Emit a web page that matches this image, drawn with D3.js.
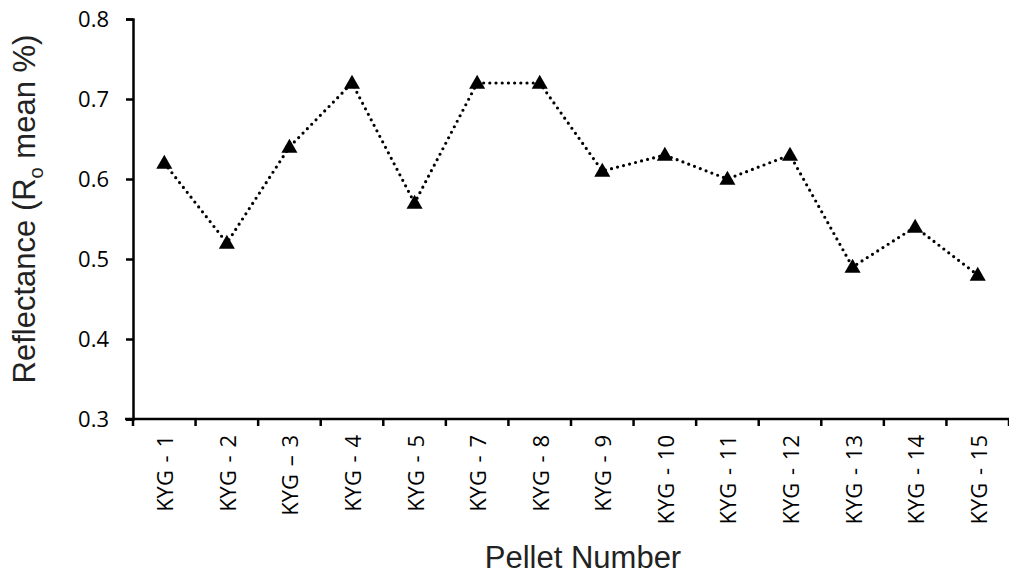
<!DOCTYPE html>
<html>
<head>
<meta charset="utf-8">
<script src="https://cdn.jsdelivr.net/npm/d3@7"></script>
<style>
  body { margin: 0; background: #fff; }
  svg { display: block; }
</style>
</head>
<body>
<script>
const pellets = ["KYG - 1", "KYG - 2", "KYG \u2013 3", "KYG - 4", "KYG - 5", "KYG - 7", "KYG - 8",
  "KYG - 9", "KYG - 10", "KYG - 11", "KYG - 12", "KYG - 13", "KYG - 14", "KYG - 15"];
const reflectance = [0.62, 0.52, 0.64, 0.72, 0.57, 0.72, 0.72, 0.61, 0.63, 0.60, 0.63, 0.49, 0.54, 0.48];
const yTicks = [0.3, 0.4, 0.5, 0.6, 0.7, 0.8];

var width = 1009, height = 579;
var margin = { left: 133, right: 0, top: 19, bottom: 160 };

const svg = d3.select("body").append("svg")
  .attr("width", width)
  .attr("height", height);

var x = d3.scaleBand().domain(pellets).range([margin.left, width - margin.right]);
var y = d3.scaleLinear().domain([0.3, 0.8]).range([height - margin.bottom, margin.top]);

// y axis
const yAxis = svg.append("g")
  .attr("transform", `translate(${margin.left},0)`)
  .call(d3.axisLeft(y).tickValues(yTicks).tickFormat(d3.format(".1f")).tickSizeOuter(0).tickSize(7));
yAxis.select(".domain").attr("stroke", "#000").attr("stroke-width", 2.5);
yAxis.selectAll(".tick line").attr("stroke-width", 2.5);
yAxis.selectAll(".tick text")
  .attr("x", -24)
  .attr("dy", "0.36em")
  .style("font-family", "'Open Sans', 'Noto Sans', sans-serif")
  .style("font-size", "22px")
  .attr("fill", "#000");

// x axis: ticks sit between categories
const xg = svg.append("g")
  .attr("transform", `translate(0,${y(0.3)})`);
xg.append("line")
  .attr("x1", margin.left - 8).attr("x2", width)
  .attr("stroke", "#000").attr("stroke-width", 2.5);
const bounds = pellets.map(p => x(p)).concat([x(pellets[pellets.length - 1]) + x.bandwidth()]);
xg.selectAll("line.tk").data(bounds).join("line")
  .attr("class", "tk")
  .attr("x1", d => d).attr("x2", d => d)
  .attr("y1", 0).attr("y2", 7)
  .attr("stroke", "#000").attr("stroke-width", 2.5);
xg.selectAll("text.lbl").data(pellets).join("text")
  .attr("class", "lbl")
  .attr("transform", d => `translate(${x(d) + x.bandwidth() / 2 + 9},16) rotate(-90)`)
  .attr("text-anchor", "end")
  .style("font-family", "'Open Sans', 'Noto Sans', sans-serif")
  .style("font-size", "22px")
  .style("word-spacing", "2px")
  .text(d => d);

// dotted line
const line = d3.line()
  .x((d, i) => x(pellets[i]) + x.bandwidth() / 2)
  .y(d => y(d));
svg.append("path")
  .datum(reflectance)
  .attr("d", line)
  .attr("fill", "none")
  .attr("stroke", "#000")
  .attr("stroke-width", 3.2)
  .attr("stroke-linecap", "round")
  .attr("stroke-dasharray", "0,6.2");

// triangle markers
const tri = d3.symbol().type(d3.symbolTriangle).size(112);
svg.selectAll("path.mk").data(reflectance).join("path")
  .attr("class", "mk")
  .attr("transform", (d, i) => `translate(${x(pellets[i]) + x.bandwidth() / 2},${y(d) + 1})`)
  .attr("d", tri)
  .attr("fill", "#000");

// axis titles
const yt = svg.append("text")
  .attr("transform", `translate(35,209) rotate(-90)`)
  .attr("text-anchor", "middle")
  .style("font-family", "'Liberation Sans', Arial, sans-serif")
  .style("font-size", "31px")
  .attr("fill", "#222");
yt.append("tspan").text("Reflectance (R");
yt.append("tspan").attr("dy", 8).style("font-size", "20px").text("o");
yt.append("tspan").attr("dy", -8).text(" mean %)");

svg.append("text")
  .attr("x", 583)
  .attr("y", 568)
  .attr("text-anchor", "middle")
  .style("font-family", "'Liberation Sans', Arial, sans-serif")
  .style("font-size", "31px")
  .attr("fill", "#222")
  .text("Pellet Number");
</script>
</body>
</html>
